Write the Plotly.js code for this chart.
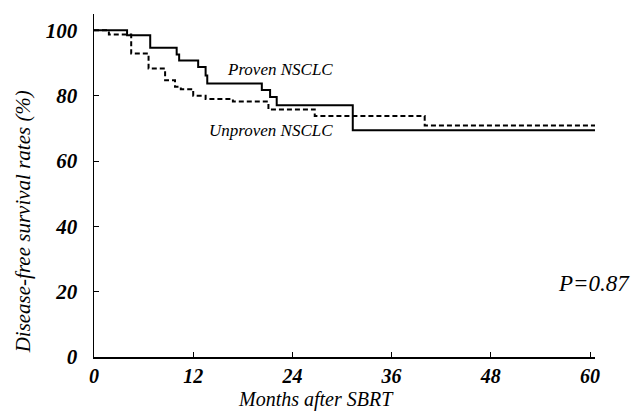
<!DOCTYPE html>
<html>
<head>
<meta charset="utf-8">
<script src="https://cdn.plot.ly/plotly-3.0.1.min.js"></script>
<style>html,body{margin:0;padding:0;background:#fff;}#chart{width:637px;height:413px;}</style>
</head>
<body>
<div id="chart"></div>
<script>
// Proven NSCLC (solid)
const provenMonths   = [0, 4.0, 6.8, 10.0, 10.3, 12.6, 13.5, 13.7, 20.3, 21.3, 22.1, 31.3, 60.6];
const provenSurvival = [100, 98.5, 94.7, 92.6, 90.8, 88.8, 86.2, 83.7, 81.7, 79.6, 77.1, 69.4, 69.4];
// Unproven NSCLC (dashed)
const unprovenMonths   = [0, 1.8, 4.5, 6.6, 8.6, 9.8, 10.5, 12.0, 13.5, 16.8, 21.1, 26.7, 40.0, 60.6];
const unprovenSurvival = [100, 98.7, 92.9, 88.3, 84.7, 82.7, 82.0, 80.0, 79.0, 78.2, 75.8, 73.8, 70.9, 70.9];
const xTicks = [0, 12, 24, 36, 48, 60];
const yTicks = [0, 20, 40, 60, 80, 100];
const seriesNames = ["Proven NSCLC", "Unproven NSCLC"];
const pText = "P=0.87";
const xTitle = "Months after SBRT";
const yTitle = "Disease-free survival rates (%)";

const serif = "Liberation Serif, Times New Roman, serif";
const traces = [
  {x: provenMonths, y: provenSurvival, mode: "lines", line: {shape: "hv", color: "#000", width: 2}, name: seriesNames[0]},
  {x: unprovenMonths, y: unprovenSurvival, mode: "lines", line: {shape: "hv", color: "#000", width: 2, dash: "5px,3px"}, name: seriesNames[1]}
];
const xTickFont = {family: serif, size: 20, color: "#000", style: "italic", weight: "bold"};
const yTickFont = {family: serif, size: 21, color: "#000", style: "italic", weight: "bold"};
const titleFont = {family: serif, size: 20, color: "#000", style: "italic"};
const layout = {
  width: 637, height: 413,
  margin: {l: 93.5, r: 41.7, t: 14, b: 56},
  paper_bgcolor: "#fff", plot_bgcolor: "#fff",
  showlegend: false,
  xaxis: {
    range: [0, 60.6], tickvals: xTicks, ticktext: xTicks.map(String),
    showline: true, linecolor: "#000", linewidth: 1.5, ticks: "inside", ticklen: 5, tickcolor: "#000",
    showgrid: false, zeroline: false, tickfont: xTickFont, ticklabelstandoff: 0
  },
  yaxis: {
    range: [0, 105], tickvals: yTicks, ticktext: yTicks.map(String),
    showline: true, linecolor: "#000", linewidth: 1.5, ticks: "inside", ticklen: 5, tickcolor: "#000",
    showgrid: false, zeroline: false, tickfont: yTickFont, ticklabelstandoff: 11
  },
  annotations: [
    {x: 29.2, y: 88.1, xref: "x", yref: "y", xanchor: "right", text: seriesNames[0], showarrow: false,
     font: {family: serif, size: 17, color: "#000", style: "italic"}},
    {x: 29.2, y: 69.3, xref: "x", yref: "y", xanchor: "right", text: seriesNames[1], showarrow: false,
     font: {family: serif, size: 17, color: "#000", style: "italic"}},
    {x: 1.073, y: 22.5, xref: "paper", yref: "y", xanchor: "right", text: pText, showarrow: false,
     font: {family: serif, size: 23, color: "#000", style: "italic"}},
    {x: 0.443, y: -0.124, xref: "paper", yref: "paper", xanchor: "center", yanchor: "middle", text: xTitle, showarrow: false,
     font: titleFont},
    {x: -0.142, y: 0.395, xref: "paper", yref: "paper", xanchor: "center", yanchor: "middle", textangle: -90, text: yTitle, showarrow: false,
     font: {family: serif, size: 21, color: "#000", style: "italic"}}
  ]
};
Plotly.newPlot("chart", traces, layout, {displayModeBar: false, staticPlot: true});
</script>
</body>
</html>
